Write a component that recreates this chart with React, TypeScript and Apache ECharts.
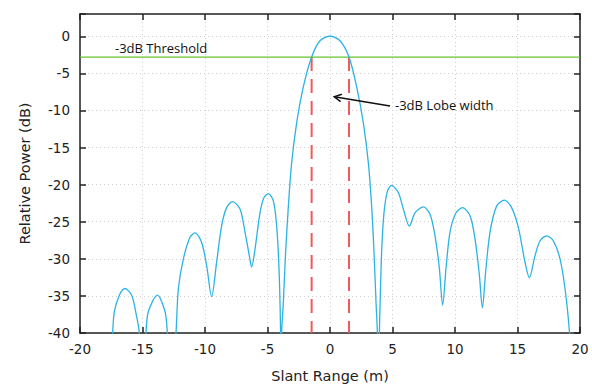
import React, { useEffect, useRef } from "react";
import * as echarts from "echarts";

// Slant range (m) and relative power (dB) of the point-target response
const slantRange = [
  -17.6, -17.39, -17.25, -16.85, -16.4, -15.87, -15.55, -15.25, -15.0, -14.72,
  -14.53, -13.81, -13.2, -13.01, -12.65, -12.32, -12.13, -11.73, -11.2, -10.8,
  -10.27, -9.87, -9.47, -9.07, -8.67, -8.27, -7.79, -7.2, -6.8, -6.45,
  -6.27, -6.0, -5.6, -5.28, -4.93, -4.53, -4.27, -4.08, -3.95, -3.91,
  -3.87, -3.73, -3.55, -3.33, -3.07, -2.67, -2.13, -1.47, -0.8, 0,
  0.8, 1.52, 2.13, 2.67, 3.07, 3.33, 3.52, 3.68, 3.79, 3.86,
  3.95, 4.13, 4.32, 4.59, 4.93, 5.47, 5.87, 6.35, 6.8, 7.47,
  8.0, 8.4, 8.75, 9.01, 9.28, 9.6, 10.08, 10.61, 11.2, 11.6,
  11.95, 12.19, 12.45, 12.8, 13.33, 13.95, 14.53, 15.07, 15.6, 15.95,
  16.4, 16.8, 17.33, 17.87, 18.4, 18.8, 19.15, 19.3,
];
const relPower = [
  -46, -40, -37.1, -34.9, -34.0, -34.9, -37.1, -40, -48, -40,
  -37.1, -34.9, -37.1, -40, -48, -40, -34.0, -30.0, -27.1, -26.5,
  -27.8, -30.9, -35.1, -30.45, -25.55, -23.1, -22.3, -23.3, -26.4, -29.6,
  -31.1, -28.7, -23.8, -21.75, -21.2, -22.2, -25.55, -31.3, -40, -48,
  -40, -35.8, -29.1, -22.9, -17.1, -11.7, -6.8, -2.8, -0.6, 0,
  -0.6, -2.8, -6.8, -11.7, -17.1, -22.9, -29.1, -35.8, -40, -48,
  -40, -29.1, -23.8, -20.9, -20.1, -21.1, -23.3, -25.6, -23.8, -23.0,
  -24.0, -26.9, -31.3, -36.25, -31.3, -26.4, -23.8, -23.1, -24.2, -27.3,
  -32.2, -36.6, -31.8, -26.4, -22.9, -22.1, -23.1, -25.8, -30.45, -32.55,
  -29.6, -27.6, -26.9, -27.6, -30.0, -34.0, -39.8, -46,
];

const threshold = -2.8; // dB
const lobeEdges = [-1.47, 1.52]; // m
const xTicks = [-20, -15, -10, -5, 0, 5, 10, 15, 20];
const yTicks = [-40, -35, -30, -25, -20, -15, -10, -5, 0];

// annotations: [x, y] in data coords
const annotationTexts = ["-3dB Threshold", "-3dB Lobe width"];
const annotationPos = [
  [-17.2, -1.6],
  [5.2, -9.3],
];
// arrow: tail -> tip
const arrowTail = [4.8, -9.4];
const arrowTip = [0.34, -8.16];

const TICK_FONT = "DejaVu Sans";

export default function App() {
  const ref = useRef<HTMLDivElement>(null);
  useEffect(() => {
    if (!ref.current) return;
    const chart = echarts.init(ref.current, undefined, { renderer: "svg" });
    const curve = slantRange.map((x, i) => [x, relPower[i]]);
    const axisLineStyle = { color: "#222", width: 1.5 };
    const option: any = {
      animation: false,
      backgroundColor: "#fff",
      grid: { left: 80, right: 12, top: 14, bottom: 53, containLabel: false },
      xAxis: [
        {
          type: "value",
          min: xTicks[0],
          max: xTicks[xTicks.length - 1],
          interval: 5,
          name: "Slant Range (m)",
          nameLocation: "middle",
          nameGap: 35,
          nameTextStyle: { fontFamily: TICK_FONT, fontSize: 14.5, color: "#222" },
          axisLine: { show: true, onZero: false, lineStyle: axisLineStyle },
          axisTick: { show: true, inside: true, length: 6, lineStyle: { color: "#222", width: 1.5 } },
          axisLabel: { fontFamily: TICK_FONT, fontSize: 13.5, color: "#222", margin: 9 },
          splitLine: { show: true, lineStyle: { color: "#cfcfcf", type: [1, 3], width: 1 } },
        },
        {
          type: "value",
          position: "top",
          min: xTicks[0],
          max: xTicks[xTicks.length - 1],
          interval: 5,
          axisLine: { show: true, onZero: false, lineStyle: axisLineStyle },
          axisTick: { show: true, inside: true, length: 6, lineStyle: { color: "#222", width: 1.5 } },
          axisLabel: { show: false },
          splitLine: { show: false },
        },
      ],
      yAxis: [
        {
          type: "value",
          min: yTicks[0],
          max: 3,
          interval: 5,
          name: "Relative Power (dB)",
          nameLocation: "middle",
          nameGap: 48,
          nameTextStyle: { fontFamily: TICK_FONT, fontSize: 14.5, color: "#222" },
          axisLine: { show: true, onZero: false, lineStyle: axisLineStyle },
          axisTick: { show: true, inside: true, length: 6, lineStyle: { color: "#222", width: 1.5 } },
          axisLabel: {
            fontFamily: TICK_FONT,
            fontSize: 13.5,
            color: "#222",
            margin: 10,
            formatter: (v: number) => (yTicks.includes(v) ? String(v) : ""),
          },
          splitLine: { show: true, lineStyle: { color: "#cfcfcf", type: [1, 3], width: 1 } },
        },
        {
          type: "value",
          position: "right",
          min: yTicks[0],
          max: 3,
          interval: 5,
          axisLine: { show: true, onZero: false, lineStyle: axisLineStyle },
          axisTick: { show: true, inside: true, length: 6, lineStyle: { color: "#222", width: 1.5 } },
          axisLabel: { show: false },
          splitLine: { show: false },
        },
      ],
      series: [
        {
          type: "line",
          data: [
            [xTicks[0], threshold],
            [xTicks[xTicks.length - 1], threshold],
          ],
          symbol: "none",
          lineStyle: { color: "#66c22e", width: 1.2 },
          z: 3,
        },
        ...lobeEdges.map((e) => ({
          type: "line",
          data: [
            [e, threshold],
            [e, yTicks[0]],
          ],
          symbol: "none",
          lineStyle: { color: "#f05a5a", width: 2, type: [14, 8] },
          z: 2,
        })),
        {
          type: "line",
          data: curve,
          symbol: "none",
          smooth: 0.3,
          clip: true,
          lineStyle: { color: "#2bb3e3", width: 1.3 },
          z: 4,
        },
        {
          type: "custom",
          data: annotationPos.map((p, i) => [p[0], p[1], i]),
          renderItem: (params: any, api: any) => {
            const p = api.coord([api.value(0), api.value(1)]);
            return {
              type: "text",
              x: p[0],
              y: p[1],
              style: {
                text: annotationTexts[params.dataIndex],
                fontFamily: "Open Sans",
                fontSize: 13,
                fill: "#111",
                textAlign: "left",
                textVerticalAlign: "middle",
              },
            };
          },
          z: 6,
        },
        {
          type: "custom",
          data: [[arrowTail[0], arrowTail[1], arrowTip[0], arrowTip[1]]],
          renderItem: (params: any, api: any) => {
            const a = api.coord([api.value(0), api.value(1)]);
            const b = api.coord([api.value(2), api.value(3)]);
            const dx = a[0] - b[0];
            const dy = a[1] - b[1];
            const len = Math.sqrt(dx * dx + dy * dy);
            const ux = dx / len;
            const uy = dy / len;
            const hl = 8;
            const ang = (28 * Math.PI) / 180;
            const c = Math.cos(ang);
            const s = Math.sin(ang);
            const p1 = [b[0] + hl * (ux * c - uy * s), b[1] + hl * (ux * s + uy * c)];
            const p2 = [b[0] + hl * (ux * c + uy * s), b[1] + hl * (-ux * s + uy * c)];
            return {
              type: "group",
              children: [
                {
                  type: "line",
                  shape: { x1: a[0], y1: a[1], x2: b[0], y2: b[1] },
                  style: { stroke: "#111", lineWidth: 1.5 },
                },
                {
                  type: "polyline",
                  shape: { points: [p1, b, p2] },
                  style: { stroke: "#111", lineWidth: 1.5, fill: "none" },
                },
              ],
            };
          },
          z: 6,
        },
      ],
    };
    chart.setOption(option);
    return () => chart.dispose();
  }, []);
  return <div ref={ref} style={{ width: 592, height: 388, position: "absolute", left: 0, top: 0 }} />;
}
